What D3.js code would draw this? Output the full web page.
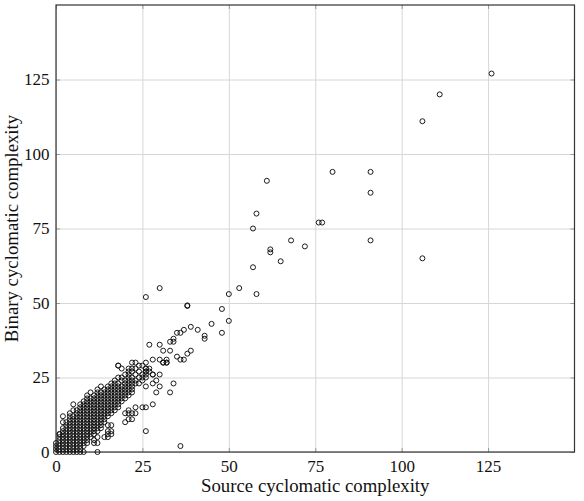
<!DOCTYPE html>
<html>
<head>
<meta charset="utf-8">
<script src="https://cdn.jsdelivr.net/npm/d3@7"></script>
<style>
  body { margin: 0; background: #fff; }
  svg text { font-family: "Liberation Serif", "DejaVu Serif", serif; }
</style>
</head>
<body>
<svg id="chart"></svg>
<script>
// axis setup
var width = 584;
var height = 501;
var plotLeft = 56, plotRight = 574.5, plotTop = 5, plotBottom = 452;

var tickValues = [0, 25, 50, 75, 100, 125];
var xLabel = "Source cyclomatic complexity";
var yLabel = "Binary cyclomatic complexity";

// dense cluster near the origin: binary value -> list of source values
var coreRows = [
  [0, [0, 1, 2, 3, 4, 5, 6, 7, 8, 12]],
  [1, [0, 1, 2, 3, 4, 5, 6, 7]],
  [2, [0, 1, 2, 3, 4, 5, 6, 7, 8]],
  [3, [0, 1, 2, 3, 4, 5, 6, 7, 8, 9, 11, 12]],
  [4, [1, 2, 3, 4, 5, 6, 7, 8, 9, 11]],
  [5, [1, 2, 3, 4, 5, 6, 7, 8, 9, 10, 12, 14, 15]],
  [6, [1, 2, 3, 4, 5, 6, 7, 8, 9, 10, 11, 15, 16]],
  [7, [2, 3, 4, 5, 6, 7, 8, 9, 10, 11, 12, 15, 16]],
  [8, [2, 3, 4, 5, 6, 7, 8, 9, 10, 11, 12, 13]],
  [9, [3, 4, 5, 6, 7, 8, 9, 10, 11, 12, 13, 15, 16]],
  [10, [3, 4, 5, 6, 7, 8, 9, 10, 11, 12, 13, 14, 20]],
  [11, [4, 5, 6, 7, 8, 9, 10, 11, 12, 13, 14, 21, 22]],
  [12, [4, 5, 6, 7, 8, 9, 10, 11, 12, 13, 14, 15]],
  [13, [4, 6, 7, 8, 9, 10, 11, 12, 13, 14, 15, 16, 20, 22, 23]],
  [14, [6, 7, 8, 9, 10, 11, 12, 13, 14, 15, 16, 17, 21]],
  [15, [7, 8, 9, 10, 11, 12, 13, 14, 15, 16, 17, 18, 23, 25, 26]],
  [16, [8, 9, 10, 11, 12, 13, 14, 15, 16, 17, 18]],
  [17, [8, 9, 10, 11, 12, 13, 14, 15, 16, 17, 18, 19]],
  [18, [9, 10, 11, 12, 13, 14, 15, 16, 17, 18, 19, 20]],
  [19, [9, 11, 12, 13, 14, 15, 16, 17, 18, 19, 20, 21]],
  [20, [12, 13, 14, 15, 16, 17, 18, 19, 20, 21, 22, 29, 33]],
  [21, [12, 14, 15, 16, 17, 18, 19, 20, 21, 22]],
  [22, [15, 16, 17, 18, 19, 20, 21, 22, 26, 30]],
  [23, [16, 17, 18, 20, 21, 22, 23, 24, 28, 34]],
  [24, [17, 19, 20, 21, 22, 23, 25, 29]],
  [25, [18, 19, 21, 22, 24, 25, 26]],
  [26, [20, 21, 23, 25, 26, 28, 30]],
  [27, [21, 22, 24, 26, 27]],
  [28, [19, 21, 22, 23, 26, 27]],
  [29, [18, 24, 25]],
  [30, [22, 23, 26, 31, 32]]
];

// scattered points [source, binary]
var outliers = [
  [1, 6], [2, 10], [2, 12], [5, 14], [5, 16], [7, 16], [10, 20], [13, 22], [18, 29],
  [26, 7], [36, 2], [28, 16], [21, 13],
  [27, 36], [30, 36], [31, 34], [33, 34], [33, 37], [34, 37], [34, 38], [35, 40],
  [36, 40], [37, 41], [39, 42], [41, 41], [43, 39], [43, 38], [39, 34], [38, 33],
  [35, 32], [36, 31], [37, 31], [28, 31], [30, 31], [31, 30], [32, 30], [32, 31],
  [26, 28], [26, 27], [28, 26], [45, 43], [48, 40], [50, 44], [48, 48],
  [38, 49], [38, 49.2], [26, 52], [30, 55], [50, 53], [53, 55], [58, 53],
  [57, 62], [65, 64], [62, 67], [62, 68], [72, 69], [68, 71], [91, 71],
  [57, 75], [58, 80], [76, 77], [77, 77], [61, 91], [80, 94], [91, 94], [91, 87],
  [106, 65], [106, 111], [111, 120], [126, 127]
];

var points = [];
coreRows.forEach(function(row){
  row[1].forEach(function(s){ points.push([s, row[0]]); });
});
points = points.concat(outliers);

var xScale = d3.scaleLinear().domain([0, 150]).range([plotLeft, plotRight]);
var yScale = d3.scaleLinear().domain([0, 150]).range([plotBottom, plotTop]);

var svg = d3.select("#chart")
    .attr("width", width)
    .attr("height", height);

// grid
svg.append("g")
    .attr("transform", `translate(0, ${plotBottom})`)
    .call(d3.axisBottom(xScale).tickValues(tickValues).tickSize(-(plotBottom - plotTop)).tickFormat(""))
    .call(g => g.select(".domain").remove())
    .call(g => g.selectAll("line").attr("stroke", "#d6d6d6").attr("stroke-width", 1));

svg.append("g")
    .attr("transform", `translate(${plotLeft}, 0)`)
    .call(d3.axisLeft(yScale).tickValues(tickValues).tickSize(-(plotRight - plotLeft)).tickFormat(""))
    .call(g => g.select(".domain").remove())
    .call(g => g.selectAll("line").attr("stroke", "#d6d6d6").attr("stroke-width", 1));

// inward tick marks on all four sides
var tickLen = 4;
[
  [d3.axisBottom(xScale), `translate(0, ${plotBottom})`],
  [d3.axisTop(xScale), `translate(0, ${plotTop})`],
  [d3.axisLeft(yScale), `translate(${plotLeft}, 0)`],
  [d3.axisRight(yScale), `translate(${plotRight}, 0)`]
].forEach(function(a){
  svg.append("g")
      .attr("transform", a[1])
      .call(a[0].tickValues(tickValues).tickSize(-tickLen).tickFormat(""))
      .call(g => g.select(".domain").remove())
      .call(g => g.selectAll("line").attr("stroke", "#9a9a9a").attr("stroke-width", 1));
});

// frame
svg.append("rect")
    .attr("x", plotLeft)
    .attr("y", plotTop)
    .attr("width", plotRight - plotLeft)
    .attr("height", plotBottom - plotTop)
    .attr("fill", "none")
    .attr("stroke", "#333")
    .attr("stroke-width", 1.2);

// tick labels
svg.append("g")
    .attr("transform", `translate(0, ${plotBottom})`)
    .call(d3.axisBottom(xScale).tickValues(tickValues).tickSize(0).tickPadding(8))
    .call(g => g.select(".domain").remove())
    .call(g => g.selectAll("text").attr("font-size", 17).attr("fill", "#111")
        .style("font-family", "'Liberation Serif', serif"));

svg.append("g")
    .attr("transform", `translate(${plotLeft}, 0)`)
    .call(d3.axisLeft(yScale).tickValues(tickValues).tickSize(0).tickPadding(6.5))
    .call(g => g.select(".domain").remove())
    .call(g => g.selectAll("text").attr("font-size", 17).attr("fill", "#111")
        .style("font-family", "'Liberation Serif', serif"));

// points
svg.append("g")
    .selectAll("circle")
    .data(points)
    .enter()
    .append("circle")
     .attr("cx", d => xScale(d[0]))
     .attr("cy", d => yScale(d[1]))
     .attr("r", 2.5)
     .attr("fill", "none")
     .attr("stroke", "#111")
     .attr("stroke-width", 0.95);

// axis titles
svg.append("text")
    .attr("x", (plotLeft + plotRight) / 2)
    .attr("y", 492)
    .attr("font-size", 18.8)
    .attr("fill", "#111")
    .style("text-anchor", "middle")
    .text(xLabel);

svg.append("text")
    .attr("transform", `translate(17.5, ${(plotTop + plotBottom) / 2}) rotate(-90)`)
    .attr("font-size", 18.8)
    .attr("fill", "#111")
    .style("text-anchor", "middle")
    .text(yLabel);
</script>
</body>
</html>
